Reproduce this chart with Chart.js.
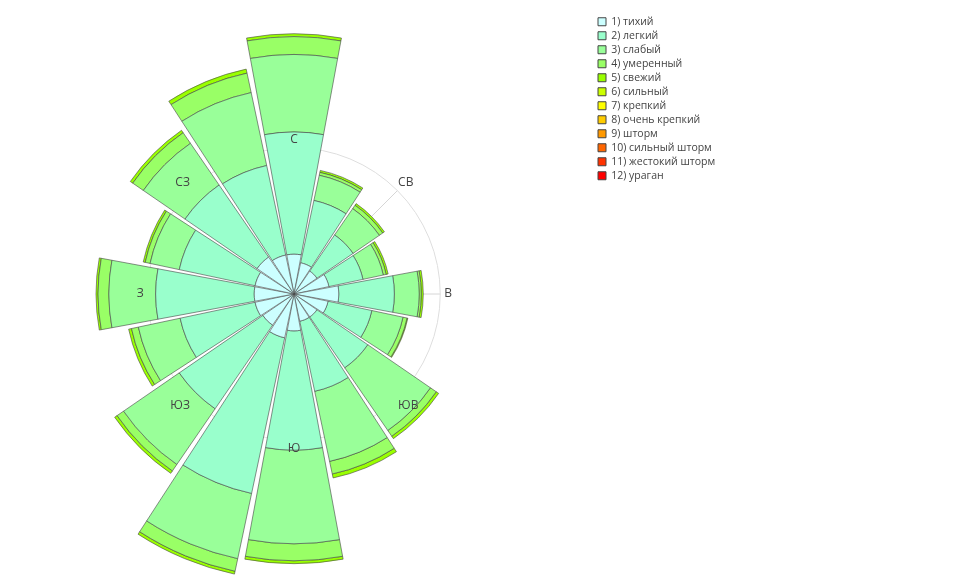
<!DOCTYPE html>
<html lang="ru">
<head>
<meta charset="utf-8">
<title>Роза ветров</title>
<script src="https://cdn.jsdelivr.net/npm/chart.js@4.4.1/dist/chart.umd.min.js"></script>
<style>
  html, body { margin: 0; padding: 0; background: #fff; }
  #wrap { position: relative; width: 954px; height: 588px; }
</style>
</head>
<body>
<div id="wrap"><canvas id="rose"></canvas></div>
<script>
// directions, N -> clockwise
const directions = ["С", "ССВ", "СВ", "ВСВ", "В", "ВЮВ", "ЮВ", "ЮЮВ", "Ю", "ЮЮЗ", "ЮЗ", "ЗЮЗ", "З", "ЗСЗ", "СЗ", "ССЗ"];

const beaufort = ["1) тихий", "2) легкий", "3) слабый", "4) умеренный", "5) свежий", "6) сильный",
  "7) крепкий", "8) очень крепкий", "9) шторм", "10) сильный шторм", "11) жестокий шторм", "12) ураган"];

const colors = ["#ccffff", "#99ffcc", "#99ff99", "#99ff66", "#99ff00", "#ccff00",
  "#ffff00", "#ffcc00", "#ff9900", "#ff6600", "#ff3300", "#ff0000"];

// radial axis range, %
const radialTicks = [0, 5];

// frequency, % (per direction)
const calm = [1.36, 1.09, 0.95, 1.22, 1.53, 1.19, 0.95, 0.95, 1.26, 1.53, 1.29, 1.36, 1.36, 1.36, 1.53, 1.36];
const light = [4.18, 2.18, 1.50, 1.19, 1.90, 1.53, 2.11, 2.45, 4.08, 5.44, 3.47, 2.62, 3.37, 2.65, 2.99, 3.13];
const gentle = [2.65, 0.88, 1.09, 0.71, 0.85, 1.09, 2.60, 2.45, 3.20, 2.28, 2.31, 1.46, 1.60, 1.02, 1.73, 2.55];
const moderate = [0.61, 0.10, 0.14, 0.10, 0.07, 0.14, 0.24, 0.44, 0.58, 0.44, 0.27, 0.24, 0.37, 0.17, 0.44, 0.68];
const fresh = [0.10, 0.07, 0.07, 0.07, 0.07, 0.03, 0.10, 0.14, 0.10, 0.10, 0.10, 0.10, 0.07, 0.07, 0.10, 0.14];
const strong = [0, 0, 0, 0, 0, 0, 0, 0, 0, 0, 0, 0, 0, 0, 0, 0];
const nearGale = [0, 0, 0, 0, 0, 0, 0, 0, 0, 0, 0, 0, 0, 0, 0, 0];
const gale = [0, 0, 0, 0, 0, 0, 0, 0, 0, 0, 0, 0, 0, 0, 0, 0];
const strongGale = [0, 0, 0, 0, 0, 0, 0, 0, 0, 0, 0, 0, 0, 0, 0, 0];
const storm = [0, 0, 0, 0, 0, 0, 0, 0, 0, 0, 0, 0, 0, 0, 0, 0];
const violentStorm = [0, 0, 0, 0, 0, 0, 0, 0, 0, 0, 0, 0, 0, 0, 0, 0];
const hurricane = [0, 0, 0, 0, 0, 0, 0, 0, 0, 0, 0, 0, 0, 0, 0, 0];

const series = [calm, light, gentle, moderate, fresh, strong, nearGale, gale, strongGale, storm, violentStorm, hurricane];

const BAR_DEG = 21; // angular width of one bar (sector is 22.5)

// polar area, but stacked: each dataset starts where the previous ones end
class WindRoseController extends Chart.PolarAreaController {
  updateElement(arc, index, props, mode) {
    const scale = this._cachedMeta.rScale;
    const sets = this.chart.data.datasets;
    let base = 0;
    for (let j = 0; j < this.index; j++) base += sets[j].data[index];
    const value = sets[this.index].data[index];
    const mid = (props.startAngle + props.endAngle) / 2 - Math.PI / 16;
    const half = BAR_DEG * Math.PI / 360;
    props.innerRadius = scale.getDistanceFromCenterForValue(base);
    props.outerRadius = scale.getDistanceFromCenterForValue(base + value);
    props.startAngle = mid - half;
    props.endAngle = mid + half;
    super.updateElement(arc, index, props, mode);
  }
}
WindRoseController.id = "windRose";
WindRoseController.defaults = Chart.PolarAreaController.defaults;
WindRoseController.overrides = Chart.PolarAreaController.overrides;
Chart.register(WindRoseController);

Chart.defaults.font.family = "'Open Sans', sans-serif";
Chart.defaults.color = "#444";

const labelFont = { family: "'Open Sans', sans-serif", size: 12 };
const legendFont = { family: "'Open Sans', sans-serif", size: 10.5 };
const everyOther = (label, i) => (i % 2 ? "" : label);
const labelPad = (c) => (c.index % 8 === 4 ? 4 : 1);

new Chart(document.getElementById("rose"), {
  type: "windRose",
  data: {
    labels: directions,
    datasets: series.map((data, i) => ({
      label: beaufort[i],
      data,
      backgroundColor: colors[i],
      borderColor: "#444",
      borderWidth: (c) => (c.raw > 0 ? 0.6 : 0),
      clip: false
    }))
  },
  options: {
    responsive: true,
    maintainAspectRatio: false,
    animation: false,
    events: [],
    layout: { padding: { left: 137, top: 13, bottom: 13, right: 233.5 } },
    scales: {
      r: {
        min: radialTicks[0],
        max: radialTicks[1],
        startAngle: 0,
        ticks: { display: false, stepSize: radialTicks[1] },
        grid: { circular: true, color: "#dedede", lineWidth: 1, z: -1 },
        angleLines: { display: true, color: (c) => (c.index % 2 ? "rgba(0,0,0,0)" : "#d6d6d6"), lineWidth: 1 },
        pointLabels: { display: true, color: "rgba(0,0,0,0)", font: labelFont, padding: labelPad, callback: everyOther }
      },
      // same geometry, only draws the direction labels above the bars
      r2: {
        type: "radialLinear",
        min: radialTicks[0],
        max: radialTicks[1],
        startAngle: 0,
        ticks: { display: false, stepSize: radialTicks[1] },
        grid: { display: false, z: 1 },
        angleLines: { display: false },
        pointLabels: { display: true, color: "#444", font: labelFont, padding: labelPad, callback: everyOther }
      }
    },
    plugins: {
      tooltip: { enabled: false },
      title: { display: true, text: " ", position: "right", weight: 500, padding: 63.55, font: { size: 12, lineHeight: 1.2 } },
      legend: {
        position: "right",
        align: "start",
        maxWidth: 126,
        weight: 1000,
        labels: {
          boxWidth: 8,
          boxHeight: 8,
          padding: 3.5,
          color: "#444",
          font: legendFont,
          generateLabels: (chart) => chart.data.datasets.map((ds, i) => ({
            text: ds.label,
            fillStyle: ds.backgroundColor,
            strokeStyle: "#444",
            lineWidth: 1,
            hidden: false,
            datasetIndex: i,
            fontColor: "#444"
          }))
        }
      }
    }
  }
});
</script>
</body>
</html>
